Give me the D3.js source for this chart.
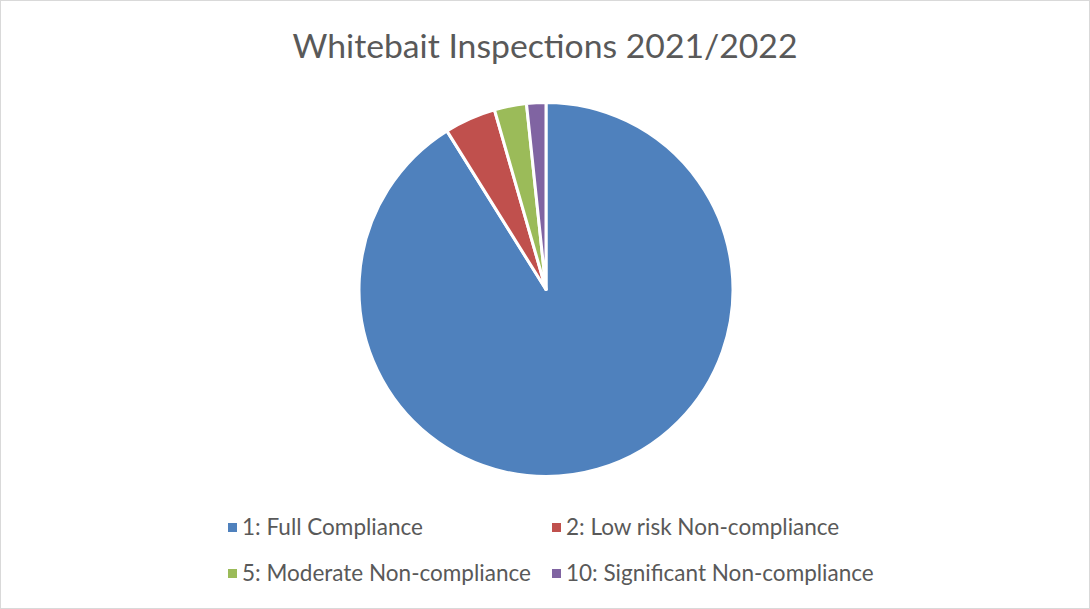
<!DOCTYPE html>
<meta charset="utf-8">
<body style="margin:0;background:#fff">
<script src="https://d3js.org/d3.v7.min.js"></script>
<style>
  .title { font-family: Lato, "Open Sans", sans-serif; fill: #595959; }
  .legend text { font-family: Lato, "Open Sans", sans-serif; fill: #595959; }
</style>
<script>
var width = 1090;
var height = 609;

var categories = ["1: Full Compliance", "2: Low risk Non-compliance",
                  "5: Moderate Non-compliance", "10: Significant Non-compliance"];
var counts = [164, 8, 5, 3];
var colors = ["#4F81BD", "#C0504D", "#9BBB59", "#8064A2"];

var svg = d3.select("body").append("svg")
            .attr("width", width)
            .attr("height", height);

svg.append("rect")
   .attr("x", 0.5).attr("y", 0.5)
   .attr("width", width - 1).attr("height", height - 1)
   .attr("fill", "#fff")
   .attr("stroke", "#d9d9d9");

// title, sized to match the original width
var title = svg.append("text")
   .attr("class", "title")
   .attr("x", 545)
   .attr("y", 58)
   .attr("text-anchor", "middle")
   .style("font-size", "30px")
   .text("Whitebait Inspections 2021/2022");
var tw = title.node().getComputedTextLength();
title.style("font-size", (30 * 505 / tw) + "px");

var data = categories.map(function(c, i) { return {name: c, value: counts[i], color: colors[i]}; });

var pie = d3.pie().sort(null).value(function(d) { return d.value; });
var arc = d3.arc().innerRadius(0).outerRadius(187);

svg.append("g")
   .attr("transform", "translate(546,289.5)")
   .selectAll("path")
   .data(pie(data))
   .enter()
   .append("path")
   .attr("d", arc)
   .attr("fill", function(d) { return d.data.color; })
   .attr("stroke", "#fff")
   .attr("stroke-width", 3)
   .attr("stroke-linejoin", "round");

// legend: two columns, two rows
var colX = [228, 552];
var rowY = [528, 574];

var legend = svg.append("g").attr("class", "legend");
var items = legend.selectAll("g")
   .data(data)
   .enter()
   .append("g")
   .attr("transform", function(d, i) {
     return "translate(" + colX[i % 2] + "," + rowY[Math.floor(i / 2)] + ")";
   });

items.append("rect")
   .attr("x", 0).attr("y", -5)
   .attr("width", 9).attr("height", 9)
   .attr("fill", function(d) { return d.color; });

var labels = items.append("text")
   .attr("x", 14)
   .attr("y", 7)
   .style("font-size", "20px")
   .text(function(d) { return d.name; });

// fit legend font to original label width
var lw = labels.filter(function(d, i) { return i === 3; }).node().getComputedTextLength();
labels.style("font-size", (20 * 308 / lw) + "px");
</script>
</body>
